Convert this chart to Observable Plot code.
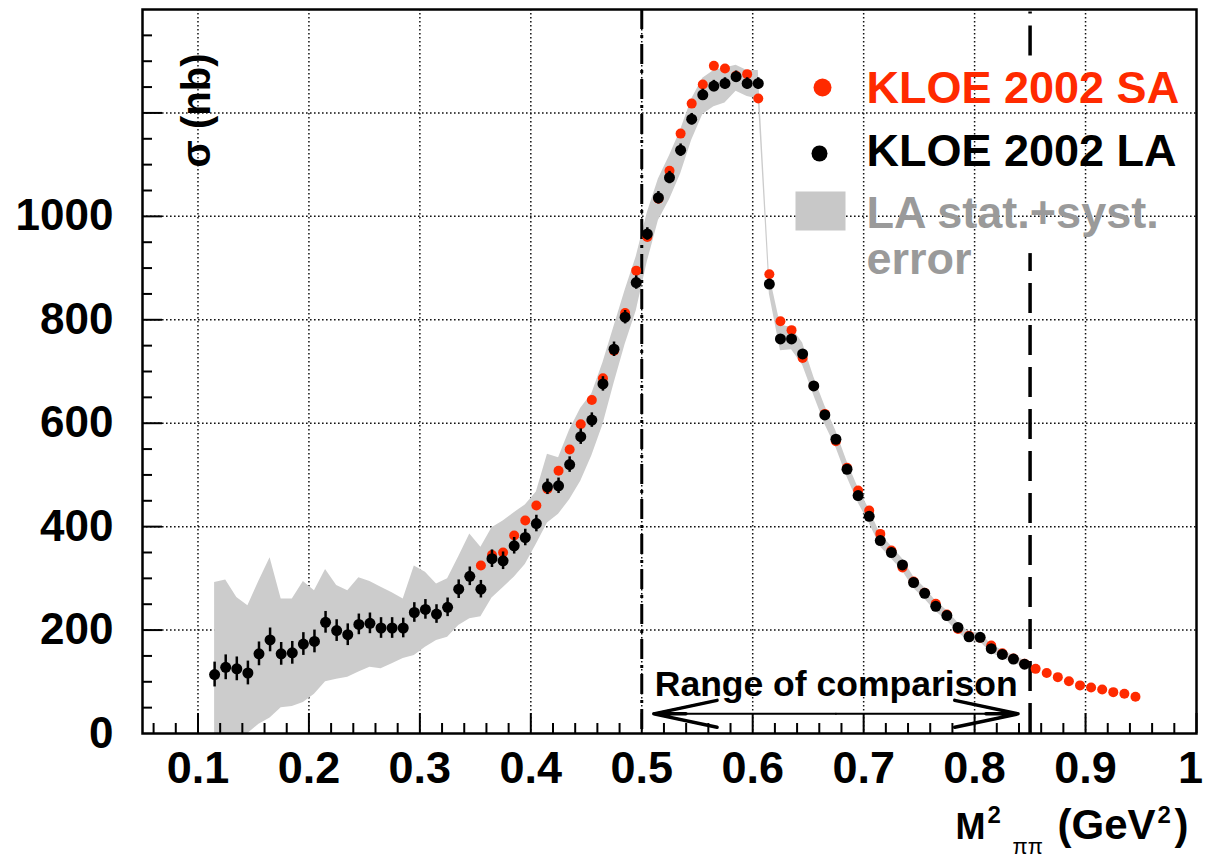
<!DOCTYPE html>
<html>
<head>
<meta charset="utf-8">
<script src="https://cdn.jsdelivr.net/npm/d3@7"></script>
<script src="https://cdn.jsdelivr.net/npm/@observablehq/plot@0.6"></script>
<style>
  html, body { margin: 0; padding: 0; background: white; }
  #chart svg { display: block; }
</style>
</head>
<body>
<div id="chart"></div>
<script>
// ---- KLOE 2002 Large Angle (LA) data: bin centres, cross section (nb), stat error, band (stat+syst) ----
const laX = [0.115,0.125,0.135,0.145,0.155,0.165,0.175,0.185,0.195,0.205,0.215,0.225,0.235,0.245,0.255,0.265,0.275,0.285,0.295,0.305,0.315,0.325,0.335,0.345,
  0.355,0.365,0.375,0.385,0.395,0.405,0.415,0.425,0.435,0.445,
  0.455,0.465,0.475,0.485,0.495,0.505,0.515,0.525,0.535,0.545,0.555,0.565,0.575,0.585,0.595,0.605,
  0.615,0.625,0.635,0.645,0.655,0.665,0.675,0.685,0.695,0.705,0.715,0.725,0.735,0.745,0.755,0.765,0.775,0.785,0.795,0.805,0.815,0.825,0.835,0.845];
const laSigma = [114,128,125,117,154,181,154,156,173,178,215,199,191,211,213,204,204,204,234,240,231,244,279,304,
  279,338,334,363,379,406,477,479,520,574,
  606,676,743,805,872,966,1036,1075,1128,1188,1235,1252,1257,1270,1257,1257,
  869,763,763,734,672,616,569,511,460,420,373,350,326,292,271,246,228,205,187,186,164,153,144,134];
const laStat = [24,24,23,23,23,23,22,22,22,22,21,21,21,20,20,20,20,19,19,19,18,18,18,18,
  17,17,17,16,16,16,15,15,15,15,
  14,14,14,13,13,12,12,12,12,11,11,11,11,11,11,11,
  8,8,8,8,8,8,8,8,8,8,8,8,8,8,8,8,8,8,8,8,8,8,8,8];
const laBandHi = [292,297,263,247,295,340,260,260,294,276,317,286,276,301,294,283,272,260,324,312,289,299,342,386,
  360,398,411,427,442,467,540,533,587,629,
  657,717,787,857,922,1007,1072,1117,1167,1227,1267,1282,1287,1292,1282,1282,
  888,790,785,755,690,634,585,526,475,433,386,362,338,303,282,256,238,214,196,195,172,161,151,141];
const laBandLo = [0,0,0,0,18,30,50,52,60,76,100,105,109,119,128,125,135,145,151,167,180,186,209,222,
  226,262,282,302,327,366,407,424,452,488,
  537,597,677,752,817,912,992,1032,1082,1147,1197,1212,1219,1242,1232,1227,
  850,740,742,712,654,598,553,496,446,407,361,338,314,281,260,236,218,196,178,177,156,145,137,127];

// ---- KLOE 2002 Small Angle (SA) data ----
const saX = [0.355,0.365,0.375,0.385,0.395,0.405,0.415,0.425,0.435,0.445,0.455,0.465,0.475,0.485,0.495,0.505,0.515,0.525,0.535,0.545,
  0.555,0.565,0.575,0.585,0.595,0.605,0.615,0.625,0.635,0.645,0.655,0.665,0.675,0.685,0.695,0.705,0.715,0.725,0.735,0.745,
  0.755,0.765,0.775,0.785,0.795,0.805,0.815,0.825,0.835,0.845,0.855,0.865,0.875,0.885,0.895,0.905,0.915,0.925,0.935,0.945];
const saSigma = [325,345,350,383,412,441,473,508,549,598,645,687,740,813,895,960,1034,1088,1160,1218,
  1255,1291,1286,1272,1275,1228,888,797,780,726,672,618,565,514,470,431,386,354,321,294,
  272,251,230,202,189,185,170,155,145,135,125,117,109,101,93,89,85,80,77,71];

// ---- axes / annotations ----
const xTickLabels = [0.1,0.2,0.3,0.4,0.5,0.6,0.7,0.8,0.9,1];
const xMinor = [0.06,0.08,0.12,0.14,0.16,0.18,0.22,0.24,0.26,0.28,0.32,0.34,0.36,0.38,0.42,0.44,0.46,0.48,0.52,0.54,0.56,0.58,0.62,0.64,0.66,0.68,0.72,0.74,0.76,0.78,0.82,0.84,0.86,0.88,0.92,0.94,0.96,0.98];
const xGridVals = [0.1,0.2,0.3,0.4,0.5,0.6,0.7,0.8,0.9];
const yTickLabels = [0,200,400,600,800,1000];
const yMajor = [200,400,600,800,1000,1200];
const yMinor = [50,100,150,250,300,350,450,500,550,650,700,750,850,900,950,1050,1100,1150,1250,1300,1350];
const yGridVals = [200,400,600,800,1000,1200];
const comparisonRange = [0.5, 0.85];
const comparisonArrowY = 38;
const rightCutSegments = [{y1: 0, y2: 928}, {y1: 1310, y2: 1395}];

const RED = "#ff2a00";
const GRAY_TXT = "#9a9a9a";
const BAND = "#cccccc";
const FONT = "'Liberation Sans', Arial, Helvetica, sans-serif";

const la = laX.map((x, i) => ({x, y: laSigma[i], e: laStat[i], hi: laBandHi[i], lo: laBandLo[i]}));
const sa = saX.map((x, i) => ({x, y: saSigma[i]}));

const W = 1207, H = 862;
const mL = 142, mR = 11, mT = 9, mB = 129;
const plotW = W - mL - mR, plotH = H - mT - mB;
const midX = (comparisonRange[0] + comparisonRange[1]) / 2;
const bottomY = H - mB;

const arrowOpts = {x1: midX, y1: comparisonArrowY, x2: d => d, y2: comparisonArrowY, stroke: "black", headLength: 40, headAngle: 24, insetEnd: 12};

const chart = Plot.plot({
  width: W, height: H,
  marginLeft: mL, marginRight: mR, marginTop: mT, marginBottom: mB,
  style: {fontFamily: FONT, background: "white", color: "black"},
  x: {domain: [0.05, 1.0], axis: null},
  y: {domain: [0, 1400], axis: null},
  marks: [
    // grid
    Plot.ruleX(xGridVals, {stroke: "#111", strokeWidth: 1.5, strokeDasharray: "1.6,2.4"}),
    Plot.ruleY(yGridVals, {stroke: "#111", strokeWidth: 1.5, strokeDasharray: "1.6,2.4"}),
    // LA stat+syst band
    Plot.areaY(la, {x: "x", y1: "lo", y2: "hi", fill: BAND}),
    // comparison range boundaries
    Plot.ruleX([comparisonRange[0]], {stroke: "black", strokeWidth: 3, strokeDasharray: "20,6,3,6"}),
    Plot.ruleX(rightCutSegments, {x: comparisonRange[1], y1: "y1", y2: "y2", stroke: "black", strokeWidth: 3.5, strokeDasharray: "30,12"}),
    // SA points
    Plot.dot(sa, {x: "x", y: "y", r: 5, fill: RED, stroke: "none"}),
    // LA points with stat error
    Plot.ruleX(la, {x: "x", y1: d => d.y - d.e, y2: d => d.y + d.e, stroke: "black", strokeWidth: 2.5}),
    Plot.dot(la, {x: "x", y: "y", r: 5.5, fill: "black", stroke: "none"}),
    // range arrow (thin shaft + heavier heads) + text
    Plot.arrow(comparisonRange, {...arrowOpts, strokeWidth: 2}),
    Plot.arrow(comparisonRange, {...arrowOpts, strokeWidth: 3.5, insetStart: 150}),
    Plot.text(["Range of comparison"], {x: comparisonRange[0], frameAnchor: "bottom", dx: 13, dy: -38,
      textAnchor: "start", lineAnchor: "bottom", fontSize: 35.5, fontWeight: "bold", fill: "black"}),
    // ticks (inside, ROOT style)
    Plot.tickX(xTickLabels, {x: d => d, insetTop: plotH - 20, stroke: "black", strokeWidth: 2}),
    Plot.tickX(xMinor, {x: d => d, insetTop: plotH - 10, stroke: "black", strokeWidth: 2}),
    Plot.tickY(yMajor, {y: d => d, insetRight: plotW - 20, stroke: "black", strokeWidth: 2}),
    Plot.tickY(yMinor, {y: d => d, insetRight: plotW - 10, stroke: "black", strokeWidth: 2}),
    // tick labels
    Plot.axisX(xTickLabels.slice(0, -1), {tickSize: 0, tickPadding: 18, tickFormat: d => String(d), fontSize: 45, fontWeight: "bold", label: null}),
    Plot.axisX(xTickLabels.slice(-1), {tickSize: 0, tickPadding: 18, tickFormat: d => String(d), fontSize: 45, fontWeight: "bold", label: null, dx: -6}),
    Plot.axisY(yTickLabels, {tickSize: 0, tickPadding: 29, tickFormat: d => String(d), fontSize: 44, fontWeight: "bold", label: null}),
    // frame
    Plot.frame({stroke: "black", strokeWidth: 2.5}),
    // y label
    Plot.text(["σ (nb)"], {frameAnchor: "top-left", dx: 197 - mL, dy: 110 - mT, rotate: -90,
      textAnchor: "middle", lineAnchor: "middle", fontSize: 40, fontWeight: "bold", fill: "black"}),
    // x label pieces
    Plot.text(["M"], {frameAnchor: "bottom-left", dx: 955 - mL, dy: 838 - bottomY, textAnchor: "start", lineAnchor: "bottom", fontSize: 36, fontWeight: "bold"}),
    Plot.text(["2"], {frameAnchor: "bottom-left", dx: 987 - mL, dy: 822 - bottomY, textAnchor: "start", lineAnchor: "bottom", fontSize: 24, fontWeight: "bold"}),
    Plot.text(["ππ"], {frameAnchor: "bottom-left", dx: 1012 - mL, dy: 853 - bottomY, textAnchor: "start", lineAnchor: "bottom", fontSize: 22}),
    Plot.text(["(GeV"], {frameAnchor: "bottom-left", dx: 1057 - mL, dy: 838 - bottomY, textAnchor: "start", lineAnchor: "bottom", fontSize: 42, fontWeight: "bold"}),
    Plot.text(["2"], {frameAnchor: "bottom-left", dx: 1157 - mL, dy: 822 - bottomY, textAnchor: "start", lineAnchor: "bottom", fontSize: 24, fontWeight: "bold"}),
    Plot.text([")"], {frameAnchor: "bottom-left", dx: 1174 - mL, dy: 838 - bottomY, textAnchor: "start", lineAnchor: "bottom", fontSize: 42, fontWeight: "bold"}),
    // legend
    Plot.dot([0], {frameAnchor: "top-left", dx: 822 - mL, dy: 87 - mT, r: 9, fill: RED}),
    Plot.dot([0], {frameAnchor: "top-left", dx: 819 - mL, dy: 153 - mT, r: 8, fill: "black"}),
    Plot.frame({fill: "#c8c8c8", stroke: "none", insetLeft: 795 - mL, insetRight: (W - mR) - 845, insetTop: 191 - mT, insetBottom: bottomY - 230}),
    Plot.text(["KLOE 2002 SA"], {frameAnchor: "top-left", dx: 866 - mL, dy: 102 - mT, textAnchor: "start", lineAnchor: "bottom", fontSize: 45, fontWeight: "bold", fill: RED}),
    Plot.text(["KLOE 2002 LA"], {frameAnchor: "top-left", dx: 866 - mL, dy: 165 - mT, textAnchor: "start", lineAnchor: "bottom", fontSize: 45, fontWeight: "bold", fill: "black"}),
    Plot.text(["LA stat.+syst.\nerror"], {frameAnchor: "top-left", dx: 866 - mL, dy: 273 - mT, textAnchor: "start", lineAnchor: "bottom", lineHeight: 1.02, fontSize: 45, fontWeight: "bold", fill: GRAY_TXT})
  ]
});
document.getElementById("chart").appendChild(chart);
</script>
</body>
</html>
